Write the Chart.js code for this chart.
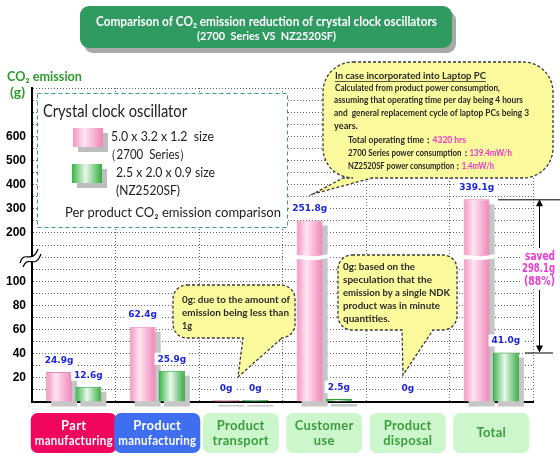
<!DOCTYPE html>
<html>
<head>
<meta charset="utf-8">
<script src="https://cdn.jsdelivr.net/npm/chart.js@4.4.1/dist/chart.umd.min.js"></script>
<style>
html, body { margin: 0; padding: 0; background: #fff; }
canvas { display: block; }
</style>
</head>
<body>
<canvas id="co2Chart" width="560" height="458"></canvas>
<script>
// data
const categories = [["Part", "manufacturing"], ["Product", "manufacturing"], ["Product", "transport"], ["Customer", "use"], ["Product", "disposal"], ["Total"]];
const series2700 = [24.9, 62.4, 0, 251.8, 0, 339.1];
const seriesNZ = [12.6, 25.9, 0, 2.5, 0, 41.0];
// disposal has no bar at all in the picture, only one "0g" note
const hasBars = [true, true, true, true, false, true];
const yTickLabels = [20, 40, 60, 80, 100, 200, 300, 400, 500, 600];

// broken axis: 0-100 at full scale, 100-200 squeezed into the break, above 200 at 1/5
function toAxis(v) {
  if (v <= 100) return v;
  if (v <= 200) return 100 + (v - 100) * 0.4;
  return 140 + (v - 200) / 5;
}
function fromAxis(d) {
  if (d <= 100) return d;
  if (d <= 140) return 100 + (d - 100) / 0.4;
  return 200 + (d - 140) * 5;
}

const pinkStops = [[0, '#f493c2'], [0.38, '#fde6f1'], [1, '#f083b8']];
const greenStops = [[0, '#38b545'], [0.45, '#e9f8ea'], [1, '#33ad41']];
const boxFill = ['#f0065f', '#3f6ff0', '#ccf6cc', '#ccf6cc', '#ccf6cc', '#ccf6cc'];
const boxText = ['#ffffff', '#ffffff', '#3d9d3d', '#3d9d3d', '#3d9d3d', '#3d9d3d'];

function rrect(c, x, y, w, h, r) {
  c.beginPath();
  c.roundRect(x, y, w, h, r);
}

// text squeezed to a given width
function fitText(c, text, x, y, w) {
  const m = c.measureText(text).width;
  c.save();
  c.translate(x, y);
  c.scale(w / m, 1);
  c.fillText(text, 0, 0);
  c.restore();
}

// coloured runs on one line, squeezed to width w
function runs(c, parts, x, y, w) {
  let total = 0;
  parts.forEach(p => total += c.measureText(p[0]).width);
  c.save();
  c.translate(x, y);
  c.scale(w / total, 1);
  let cx = 0;
  parts.forEach(p => {
    c.fillStyle = p[1];
    c.fillText(p[0], cx, 0);
    cx += c.measureText(p[0]).width;
  });
  c.restore();
}

function bubble(c, x, y, w, h, r, b1, b2, tx, ty) {
  c.beginPath();
  c.moveTo(x + r, y);
  c.lineTo(x + w - r, y);
  c.arcTo(x + w, y, x + w, y + r, r);
  c.lineTo(x + w, y + h - r);
  c.arcTo(x + w, y + h, x + w - r, y + h, r);
  c.lineTo(b2, y + h);
  c.lineTo(tx, ty);
  c.lineTo(b1, y + h);
  c.lineTo(x + r, y + h);
  c.arcTo(x, y + h, x, y + h - r, r);
  c.lineTo(x, y + r);
  c.arcTo(x, y, x + r, y, r);
  c.closePath();
  c.fillStyle = '#fbfa9c';
  c.fill();
  c.setLineDash([3, 2]);
  c.lineWidth = 1.3;
  c.strokeStyle = '#3a3a3a';
  c.stroke();
  c.setLineDash([]);
}

function gradRect(c, x, y, w, h, stops) {
  const g = c.createLinearGradient(x, 0, x + w, 0);
  stops.forEach(s => g.addColorStop(s[0], s[1]));
  c.fillStyle = g;
  c.fillRect(x, y, w, h);
}

function valueLabel(c, txt, x, y) {
  const w = c.measureText(txt).width;
  c.fillStyle = '#fff';
  c.fillRect(x - w / 2 - 3, y - 6, w + 6, 12);
  c.fillStyle = '#1b25dc';
  c.fillText(txt, x, y + 0.5);
}

// shadows + gradient fill for bars
const barDecor = {
  id: 'barDecor',
  beforeDatasetsDraw(chart) {
    const c = chart.ctx;
    c.save();
    chart.data.datasets.forEach((ds, i) => {
      chart.getDatasetMeta(i).data.forEach((bar, j) => {
        if (!hasBars[j]) return;
        const { x, y, base, width } = bar.getProps(['x', 'y', 'base', 'width'], true);
        const left = x - width / 2;
        c.fillStyle = '#c6c6c6';
        c.fillRect(left + 5, y + 5, width, base - y);
        const g = c.createLinearGradient(left, 0, left + width, 0);
        ds.stops.forEach(s => g.addColorStop(s[0], s[1]));
        bar.options.backgroundColor = g;
      });
    });
    c.restore();
  },
  afterDatasetsDraw(chart) {
    const c = chart.ctx;
    const xs = chart.scales.x, ys = chart.scales.y;
    const yBreak = ys.getPixelForValue(toAxis(150));
    c.save();
    // breaks through tall bars
    chart.data.datasets.forEach((ds, i) => {
      chart.getDatasetMeta(i).data.forEach((bar, j) => {
        if (ds.raw[j] <= 200) return;
        const { x, width } = bar.getProps(['x', 'width'], true);
        const l = x - width / 2 - 12, r = x + width / 2 + 8;
        c.beginPath();
        c.moveTo(l, yBreak + 3);
        c.bezierCurveTo(l + (r - l) * 0.3, yBreak - 5, l + (r - l) * 0.55, yBreak + 6, r, yBreak - 2);
        c.strokeStyle = '#fff';
        c.lineWidth = 4;
        c.stroke();
      });
    });
    // value labels
    c.font = 'bold 9px "DejaVu Sans"';
    c.textAlign = 'center';
    c.textBaseline = 'middle';
    chart.data.datasets.forEach((ds, i) => {
      chart.getDatasetMeta(i).data.forEach((bar, j) => {
        if (!hasBars[j]) return;
        const v = ds.raw[j];
        const txt = v === 0 ? '0g' : v.toFixed(1) + 'g';
        const { x, y } = bar.getProps(['x', 'y'], true);
        valueLabel(c, txt, x, y - 12);
      });
    });
    hasBars.forEach((b, j) => {
      if (b) return;
      const v = Math.max(series2700[j], seriesNZ[j]);
      valueLabel(c, (v === 0 ? '0' : v.toFixed(1)) + 'g', xs.getPixelForTick(j), ys.getPixelForValue(0) - 14);
    });
    c.restore();
  }
};

const decor = {
  id: 'decor',
  afterDraw(chart) {
    const c = chart.ctx;
    const xs = chart.scales.x, ys = chart.scales.y;
    c.save();
    c.textBaseline = 'middle';
    c.textAlign = 'left';

    // axis break symbol
    const yB = ys.getPixelForValue(toAxis(150));
    c.beginPath();
    c.moveTo(20, yB + 6);
    c.bezierCurveTo(24, yB - 8, 32, yB + 8, 38, yB - 8);
    c.lineTo(41, yB - 3);
    c.bezierCurveTo(35, yB + 13, 28, yB - 3, 23, yB + 10);
    c.closePath();
    c.fillStyle = '#fff';
    c.fill();
    c.beginPath();
    c.moveTo(20, yB + 6);
    c.bezierCurveTo(24, yB - 8, 32, yB + 8, 38, yB - 8);
    c.moveTo(41, yB - 3);
    c.bezierCurveTo(35, yB + 13, 28, yB - 3, 23, yB + 10);
    c.strokeStyle = '#000';
    c.lineWidth = 1.2;
    c.stroke();

    // axis title
    c.fillStyle = '#2f9a2f';
    c.font = 'bold 14px Lato';
    fitText(c, 'CO₂ emission', 7, 76, 75);
    fitText(c, '(g)', 10, 92, 15);

    // title box
    c.fillStyle = '#a9a9a9';
    rrect(c, 84, 11, 372, 42, 9);
    c.fill();
    c.fillStyle = '#2f9b61';
    rrect(c, 80, 6, 372, 42, 9);
    c.fill();
    c.fillStyle = '#fff';
    c.font = 'bold 14px Lato';
    fitText(c, 'Comparison of CO₂ emission reduction of crystal clock oscillators', 96, 21, 341);
    c.font = 'bold 12px Lato';
    fitText(c, '(2700  Series VS  NZ2520SF)', 197, 36, 139);

    // legend box
    c.fillStyle = '#fff';
    c.fillRect(37, 93, 250, 134);
    c.setLineDash([4, 3]);
    c.strokeStyle = '#3c9a8c';
    c.lineWidth = 1;
    c.strokeRect(37.5, 93.5, 250, 134);
    c.setLineDash([]);
    c.fillStyle = '#bdbdbd';
    c.fillRect(78, 133, 30, 19);
    c.fillRect(77, 169, 30, 19);
    gradRect(c, 73, 128, 30, 19, pinkStops);
    gradRect(c, 72, 164, 30, 19, greenStops);
    c.fillStyle = '#222';
    c.font = '17px Lato';
    fitText(c, 'Crystal clock oscillator', 43, 112, 144);
    c.font = '14px Lato';
    fitText(c, '5.0 x 3.2 x 1.2  size', 111, 136, 103);
    fitText(c, '（2700  Series）', 105, 154, 86);
    fitText(c, '2.5 x 2.0 x 0.9 size', 116, 172, 99);
    fitText(c, '(NZ2520SF)', 116, 190, 64);
    fitText(c, 'Per product CO₂ emission comparison', 65, 212, 216);

    // category boxes
    categories.forEach((lines, i) => {
      const cx = xs.getPixelForTick(i);
      const w = i < 2 ? 86 : 76;
      c.fillStyle = boxFill[i];
      rrect(c, cx - w / 2, 413, w, 40, 7);
      c.fill();
      c.fillStyle = boxText[i];
      c.font = 'bold 13px Lato';
      c.letterSpacing = '0.3px';
      c.textAlign = 'center';
      const y0 = 433 - (lines.length - 1) * 7.5;
      lines.forEach((t, k) => {
        const tw = c.measureText(t).width;
        const maxW = w - 8;
        if (tw > maxW) {
          c.save(); c.translate(cx, y0 + k * 15); c.scale(maxW / tw, 1); c.fillText(t, 0, 0); c.restore();
        } else {
          c.fillText(t, cx, y0 + k * 15);
        }
      });
      c.letterSpacing = '0px';
      c.textAlign = 'left';
    });

    // callout: laptop PC
    bubble(c, 323, 62, 230, 116, 30, 343, 372, 313, 194);
    c.font = 'bold 9px Lato';
    c.fillStyle = '#2a2a2a';
    fitText(c, 'In case incorporated into Laptop PC', 335, 76, 151);
    c.fillRect(335, 81, 151, 0.8);
    fitText(c, 'Calculated from product power consumption,', 335, 88, 165);
    fitText(c, 'assuming that operating time per day being 4 hours', 334, 100, 189);
    fitText(c, 'and  general replacement cycle of laptop PCs being 3', 334, 113, 195);
    fitText(c, 'years.', 334, 126, 24);
    runs(c, [['Total operating time：', '#2a2a2a'], ['4320 hrs', '#ff33cc']], 348, 140, 118);
    runs(c, [['2700 Series power consumption：', '#2a2a2a'], ['139.4mW/h', '#ff33cc']], 348, 153, 164);
    runs(c, [['NZ2520SF power consumption：', '#2a2a2a'], ['1.4mW/h', '#ff33cc']], 348, 166, 146);

    // callout: transport
    bubble(c, 173, 285, 122, 53, 14, 243, 282, 238, 377);
    c.fillStyle = '#2a2a2a';
    c.font = 'bold 10px Lato';
    fitText(c, '0g: due to the amount of', 182, 300, 108);
    fitText(c, 'emission being less than', 182, 313, 107);
    fitText(c, '1g', 182, 326, 10);

    // callout: disposal
    bubble(c, 338, 255, 119, 75, 14, 402, 433, 403, 375);
    c.fillStyle = '#2a2a2a';
    fitText(c, '0g: based on the', 343, 267, 72);
    fitText(c, 'speculation that the', 343, 280, 89);
    fitText(c, 'emission by a single NDK', 343, 293, 107);
    fitText(c, 'product was in minute', 343, 306, 97);
    fitText(c, 'quantities.', 343, 319, 47);

    // saved annotation
    const last = categories.length - 1;
    const saved = series2700[last] - seriesNZ[last];
    const pct = Math.round(saved / series2700[last] * 100);
    const yTop = ys.getPixelForValue(toAxis(series2700[last]));
    const yBot = ys.getPixelForValue(toAxis(seriesNZ[last]));
    const ax = 539.5;
    c.fillStyle = '#fff';
    c.fillRect(520, 249, 40, 40);
    c.strokeStyle = '#000';
    c.lineWidth = 1;
    c.beginPath();
    c.moveTo(498, yTop + 0.5); c.lineTo(560, yTop + 0.5);
    c.moveTo(525, yBot + 0.5); c.lineTo(553, yBot + 0.5);
    c.moveTo(ax, yTop + 5); c.lineTo(ax, 248);
    c.moveTo(ax, 290); c.lineTo(ax, yBot - 5);
    c.stroke();
    c.fillStyle = '#000';
    c.beginPath();
    c.moveTo(ax, yTop); c.lineTo(ax - 3.5, yTop + 7); c.lineTo(ax + 3.5, yTop + 7); c.closePath();
    c.moveTo(ax, yBot); c.lineTo(ax - 3.5, yBot - 7); c.lineTo(ax + 3.5, yBot - 7); c.closePath();
    c.fill();
    c.fillStyle = '#ee3bd2';
    c.font = 'bold 11.5px "DejaVu Sans"';
    fitText(c, 'saved', 525, 257, 30);
    fitText(c, saved.toFixed(1) + 'g', 522, 269.5, 33);
    fitText(c, '(' + pct + '%)', 524, 282, 31);
    c.restore();
  }
};

const ctx = document.getElementById('co2Chart').getContext('2d');
new Chart(ctx, {
  type: 'bar',
  data: {
    labels: categories.map(c => c.join(' ')),
    datasets: [
      {
        label: '5.0 x 3.2 x 1.2 size (2700 Series)',
        data: series2700.map((v, i) => hasBars[i] ? toAxis(v) : null),
        raw: series2700,
        stops: pinkStops,
        backgroundColor: () => '#f9b8d8',
        borderColor: '#e68cb8',
        borderWidth: 1
      },
      {
        label: '2.5 x 2.0 x 0.9 size (NZ2520SF)',
        data: seriesNZ.map((v, i) => hasBars[i] ? toAxis(v) : null),
        raw: seriesNZ,
        stops: greenStops,
        backgroundColor: () => '#9be0a0',
        borderColor: '#2f9e3a',
        borderWidth: 1
      }
    ]
  },
  options: {
    responsive: false,
    animation: false,
    layout: { padding: { top: 88, right: 27, left: 0, bottom: 0 } },
    plugins: { legend: { display: false }, tooltip: { enabled: false } },
    datasets: { bar: { categoryPercentage: 0.7, barPercentage: 0.89, minBarLength: 2 } },
    scales: {
      x: {
        grid: { color: '#666', drawTicks: false },
        border: { color: '#000', width: 2, dash: [1, 2] },
        ticks: { display: false },
        afterFit(s) { s.height = 56; }
      },
      y: {
        min: 0,
        max: 260,
        ticks: {
          stepSize: 10,
          autoSkip: false,
          padding: 6,
          color: '#000',
          font: { family: 'Arial', weight: 'bold', size: 12 },
          callback: v => {
            const r = fromAxis(v);
            return yTickLabels.includes(r) ? String(r) : '';
          }
        },
        grid: { color: '#666', drawTicks: false },
        border: { color: '#000', width: 2, dash: [1, 2] },
        afterFit(s) { s.width = 32; }
      }
    }
  },
  plugins: [barDecor, decor]
});
</script>
</body>
</html>
